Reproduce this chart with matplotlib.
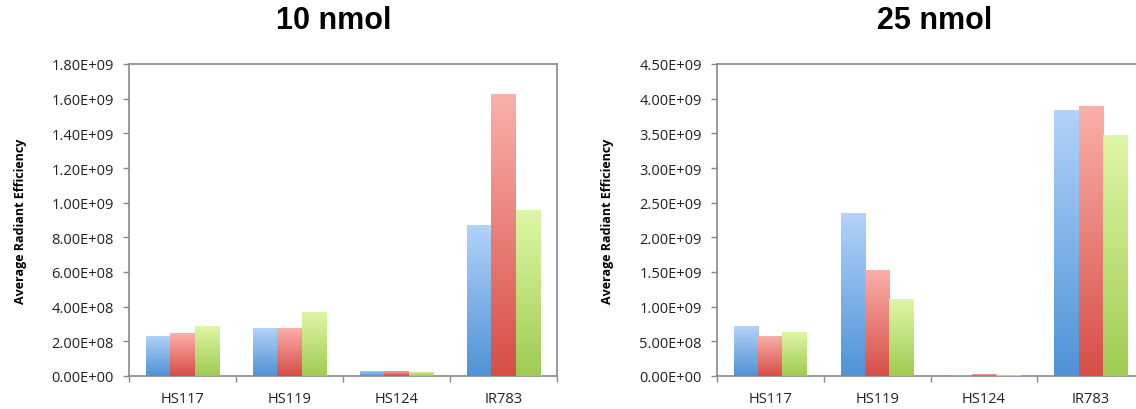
import numpy as np
import matplotlib
matplotlib.use("Agg")
import matplotlib.pyplot as plt
from matplotlib.colors import LinearSegmentedColormap
from matplotlib.ticker import FuncFormatter

# probes on the x axis, three replicate series per probe
probes = ["HS117", "HS119", "HS124", "IR783"]

nmol10_s1 = [2.31e8, 2.77e8, 3.0e7, 8.73e8]
nmol10_s2 = [2.47e8, 2.77e8, 3.0e7, 1.625e9]
nmol10_s3 = [2.89e8, 3.70e8, 2.5e7, 9.60e8]

nmol25_s1 = [7.2e8, 2.35e9, 1.0e7, 3.84e9]
nmol25_s2 = [5.8e8, 1.53e9, 2.5e7, 3.90e9]
nmol25_s3 = [6.35e8, 1.11e9, 1.0e7, 3.47e9]

# (top colour, bottom colour) for each series
shades = [("#b3d3fa", "#4f92d6"), ("#fbb0aa", "#d64e47"), ("#e0f7a6", "#9fcb52")]

FONT = "Open Sans"


def sci(v, pos):
    return "%.2E" % v


def gradient_bars(ax, series_list, ymax):
    n = len(series_list)
    width = 0.227
    x = np.arange(len(probes))
    grad = np.linspace(1, 0, 256).reshape(-1, 1)
    for i, (vals, (top, bot)) in enumerate(zip(series_list, shades)):
        cmap = LinearSegmentedColormap.from_list("g%d" % i, [bot, top])
        offs = (i - (n - 1) / 2) * width
        bars = ax.bar(x + offs, vals, width, color=bot, linewidth=0, zorder=2)
        for b in bars:
            x0, w, h = b.get_x(), b.get_width(), b.get_height()
            im = ax.imshow(grad, extent=[x0, x0 + w, 0, h], aspect="auto",
                           cmap=cmap, vmin=0, vmax=1, zorder=3,
                           interpolation="bilinear")
            im.set_clip_path(b)
    ax.set_xlim(-0.5, len(probes) - 0.5)
    ax.set_ylim(0, ymax)


def style_axes(ax, ymax, step, title, title_x, label_x):
    ax.set_yticks(np.arange(0, ymax + step / 2, step))
    ax.yaxis.set_major_formatter(FuncFormatter(sci))
    ax.set_xticks(np.arange(len(probes)))
    ax.set_xticklabels(probes)
    ax.set_xticks(np.arange(len(probes) + 1) - 0.5, minor=True)
    ax.tick_params(axis="x", which="major", length=0, pad=11)
    ax.tick_params(axis="x", which="minor", length=4, color="#888888", width=1)
    ax.tick_params(axis="y", length=4, color="#888888", width=1, pad=7)
    for lab in ax.get_xticklabels() + ax.get_yticklabels():
        lab.set_fontfamily(FONT)
        lab.set_fontsize(10.5)
        lab.set_color("#222222")
    for sp in ax.spines.values():
        sp.set_color("#8a8a8a")
        sp.set_linewidth(1.2)
    ax.set_ylabel("Average Radiant Efficiency", fontfamily=FONT, fontsize=9,
                  fontweight="bold")
    ax.yaxis.set_label_coords(label_x, 0.5)
    fig.text(title_x, 0.949, title, ha="center", va="center",
             fontfamily="Liberation Sans", fontsize=22, fontweight="bold")


fig = plt.figure(figsize=(11.36, 4.10), dpi=100)

ax1 = fig.add_axes([129 / 1136, 1 - 377 / 410, 428 / 1136, 312 / 410])
gradient_bars(ax1, [nmol10_s1, nmol10_s2, nmol10_s3], 1.8e9)
style_axes(ax1, 1.8e9, 2e8, "10 nmol", 334 / 1136, -0.238)

ax2 = fig.add_axes([717 / 1136, 1 - 377 / 410, 427 / 1136, 312 / 410])
gradient_bars(ax2, [nmol25_s1, nmol25_s2, nmol25_s3], 4.5e9)
style_axes(ax2, 4.5e9, 5e8, "25 nmol", 935 / 1136, -0.241)

fig.savefig("out.png", dpi=100)
